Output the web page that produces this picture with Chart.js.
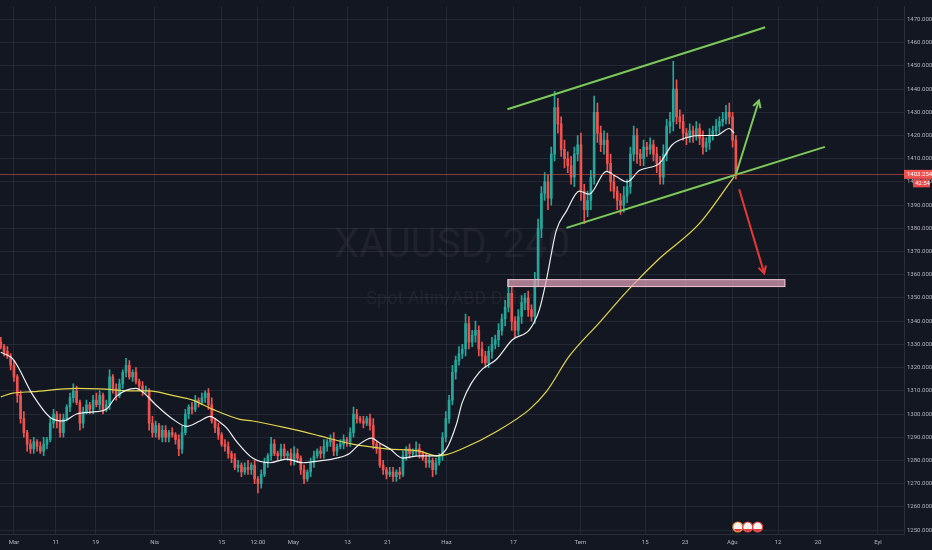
<!DOCTYPE html>
<html><head><meta charset="utf-8">
<script src="https://cdn.jsdelivr.net/npm/chart.js@4.4.1/dist/chart.umd.min.js"></script>
<style>html,body{margin:0;padding:0;background:#131722;overflow:hidden}#wrap{width:932px;height:550px;position:relative}</style>
</head><body><div id="wrap"><canvas id="c"></canvas></div>
<script>
// ---- data (4H candles, roughly two per trading day) ----
const firstOpen = 1331;
const closes = [
1329,1327,1325,1321,1316,1308,1298,1292,1287,1285,
1288,1286,1284,1287,1289,1296,1300,1297,1292,1298,
1303,1307,1310,1305,1296,1301,1304,1302,1306,1304,
1308,1302,1304,1316,1311,1308,1313,1318,1321,1316,
1318,1314,1312,1310,1310,1296,1292,1295,1290,1293,
1290,1292,1291,1289,1285,1292,1300,1303,1302,1306,
1305,1307,1309,1304,1297,1294,1291,1287,1286,1283,
1281,1277,1278,1275,1277,1276,1278,1272,1270,1274,
1279,1282,1287,1283,1282,1285,1282,1283,1280,1283,
1281,1276,1272,1275,1279,1282,1284,1283,1286,1288,
1289,1284,1286,1287,1289,1288,1292,1300,1298,1297,
1296,1298,1295,1287,1285,1278,1276,1274,1275,1273,
1275,1274,1282,1285,1283,1284,1285,1283,1281,1279,
1280,1276,1279,1282,1290,1298,1306,1318,1323,1326,
1328,1339,1331,1334,1336,1328,1325,1322,1327,1330,
1332,1336,1341,1346,1352,1340,1336,1342,1348,1350,
1345,1342,1358,1380,1395,1400,1393,1412,1432,1425,
1414,1410,1407,1402,1412,1416,1396,1388,1392,1402,
1430,1421,1416,1418,1408,1400,1396,1392,1390,1394,
1398,1412,1420,1412,1410,1415,1414,1416,1412,1408,
1402,1412,1424,1426,1440,1428,1426,1421,1419,1422,
1420,1423,1419,1415,1417,1420,1422,1424,1426,1427,
1430,1428,1418,1403.3
];
const wickUp = [
2,1,2,1,2,1,2,3,1,2, 2,1,2,3,1,2,2,1,3,2, 1,2,3,2,1,2,2,1,2,3, 2,1,2,3,1,2,2,1,3,2,
1,2,1,2,2,1,3,2,1,2, 2,1,2,1,2,3,2,1,2,2, 1,2,1,2,3,1,2,1,2,2, 1,2,2,1,2,3,1,2,1,2,
2,1,3,2,1,2,2,1,2,3, 2,1,2,1,2,2,1,2,3,1, 2,3,1,2,2,1,2,3,2,1, 2,1,2,3,1,2,2,1,2,2,
1,2,2,1,2,1,3,2,1,2, 2,1,2,1,2,3,2,3,2,3, 2,4,3,2,4,2,3,2,2,3, 2,3,2,3,6,3,2,3,3,2,
3,2,3,4,3,4,3,3,7,4, 3,4,3,4,3,4,5,3,4,3, 7,4,3,4,3,4,3,2,3,4, 3,3,4,3,2,3,2,3,2,3,
3,4,3,4,12,4,3,3,2,3, 2,3,2,3,2,3,2,3,2,3, 3,4,2,2
];
const wickDown = [
1,2,1,2,2,3,2,2,3,2, 2,2,1,2,2,1,2,3,2,2, 1,2,2,1,3,2,1,2,2,1, 2,2,1,2,2,2,1,2,2,1,
2,1,2,2,1,3,2,2,1,2, 2,2,1,2,3,2,1,2,2,1, 2,1,2,2,1,2,2,1,2,2, 2,1,2,2,1,2,2,2,4,2,
1,2,2,1,2,2,1,2,2,2, 2,2,2,1,2,2,1,2,2,2, 2,2,2,1,2,2,2,2,2,1, 2,1,2,2,2,1,2,2,1,2,
2,2,1,2,2,1,2,2,1,2, 2,3,2,1,2,2,2,2,3,2, 2,3,3,2,3,3,3,2,2,3, 2,3,2,3,2,4,3,2,3,3,
3,2,3,3,4,3,5,3,3,4, 3,4,3,3,4,3,4,6,3,4, 3,4,3,4,3,4,3,4,4,3, 3,3,3,4,3,3,3,2,3,4,
3,3,3,3,4,3,3,3,3,2, 3,2,3,3,2,3,2,2,3,2, 2,3,3,2
];
const whiteMaX = [0,3.7,9.8,15,19,23,29,32,35,41,43,47,52,56.4,60.4,63.4,66.4,68.5,71.6,76.4,81.6,86.7,91.6,96.7,101.9,105.8,108.8,112.5,114.9,118,121.9,127,132.2,135.2,138.2,140,145.2,150.4,155.2,160.4,163.4,165.5,168.5,171.6,175.5,178.5,183.7,186.7,190,193.7,199.8,203.7,207.9,211.9,217,221,222.5];
const whiteMaY = [1326.6,1323.6,1308,1298.5,1297,1300,1301,1302,1307.5,1311,1309.6,1304,1298,1294.7,1297,1299,1296.5,1294,1288,1281,1279,1280.6,1279,1279.8,1281,1283,1287,1289.6,1287.5,1285,1281,1282,1282,1285,1295.5,1305,1318,1323.6,1332,1336.4,1345,1357.6,1379,1387.4,1396,1394.7,1404.5,1402.3,1400,1404.9,1408,1416,1419,1420,1420,1423,1421];
const yellowMaX = [0,3.7,9.8,23,30,40,45,52,58.2,64.3,72.5,76.4,86.7,96.7,106.7,117,127,132.2,135.2,140,150.4,160.4,165.5,172.5,181.6,190.7,199.8,211.9,222.5];
const yellowMaY = [1307.4,1309,1309.6,1311,1310.8,1310,1310,1308,1306,1302,1297.7,1297,1294,1290.6,1287,1285,1284,1282,1282.5,1285,1292.5,1302,1309.6,1325,1339.4,1354,1367,1382,1402.3];
// drawings (candle index, price)
const channelUpperX = [153.7,231.9], channelUpperY = [1431.3,1466.6];
const channelLowerX = [171.6,250.0], channelLowerY = [1380.2,1415.1];
const greenArrowX = [223,230], greenArrowY = [1403.2,1435.1];
const redArrowX = [224,231.6], redArrowY = [1396.8,1360.6];
const zoneX = [153.7,238], zoneY = [1354.7,1358.1];
const eventX = [223.6,226.6,229.6];
// axes
const xTickPos = [4,16.7,28.8,46.7,67,78,88.8,105.2,117.3,135.2,155.5,175.8,195.5,207.6,221.9,235.8,247.9,266.1];
const xTickLabels = ['Mar','11','19','Nis','15','12:00','May','13','21','Haz','17','Tem','15','23','Ağu','12','20','Eyl'];
const yTicks = [1250,1260,1270,1280,1290,1300,1310,1320,1330,1340,1350,1360,1370,1380,1390,1400,1410,1420,1430,1440,1450,1460,1470];
const lastPrice = 1403.254, countdown = '42:54';
const title = 'XAUUSD, 240', subtitle = 'Spot Altın/ABD Doları';

// ---- build ----
const UP = '#26a69a', DOWN = '#ef5350', GRID = 'rgba(60,64,78,0.42)', TXT = '#b2b5be';
const opens = closes.map((c,i)=> i===0 ? firstOpen : closes[i-1]);
const bodies = closes.map((c,i)=>({x:i, y:[opens[i], c]}));
const wicks = closes.map((c,i)=>({x:i, y:[Math.min(opens[i],c)-wickDown[i], Math.max(opens[i],c)+wickUp[i]]}));
const colors = closes.map((c,i)=> c>=opens[i] ? UP : DOWN);
const pts = (xs,ys)=> xs.map((x,i)=>({x:x, y:ys[i]}));

function lineDs(xs, ys, color, w, order){
  return {type:'line', data:pts(xs,ys), borderColor:color, borderWidth:w, pointRadius:0, fill:false, order:order, cubicInterpolationMode:'monotone'};
}

const bgPlugin = {id:'bg', beforeDraw(ch){const c=ch.ctx; c.save(); c.fillStyle='#131722'; c.fillRect(0,0,ch.width,ch.height); c.restore();}};
const watermark = {id:'wm', beforeDatasetsDraw(ch){
  const c=ch.ctx, a=ch.chartArea; const cx=(a.left+a.right)/2, cy=(a.top+a.bottom)/2;
  c.save(); c.fillStyle='rgba(255,255,255,0.05)'; c.textAlign='center'; c.textBaseline='middle';
  c.font='40px Roboto'; c.fillText(title, cx, cy-23);
  c.font='18px Roboto'; c.fillText(subtitle, cx, cy+29);
  c.restore();
}};
function arrowHead(c, x0,y0,x1,y1,color){
  const ang=Math.atan2(y1-y0,x1-x0), L=8;
  c.beginPath();
  c.moveTo(x1-L*Math.cos(ang-0.5), y1-L*Math.sin(ang-0.5));
  c.lineTo(x1,y1);
  c.lineTo(x1-L*Math.cos(ang+0.5), y1-L*Math.sin(ang+0.5));
  c.strokeStyle=color; c.lineWidth=2; c.stroke();
}
const overlay = {id:'ov', afterDatasetsDraw(ch){
  const c=ch.ctx, xs=ch.scales.x, ys=ch.scales.y, a=ch.chartArea;
  c.save();
  c.beginPath(); c.rect(a.left,a.top,a.right-a.left,a.bottom-a.top); c.clip();
  const zx0=xs.getPixelForValue(zoneX[0]), zx1=xs.getPixelForValue(zoneX[1]);
  const zy0=ys.getPixelForValue(zoneY[1]), zy1=ys.getPixelForValue(zoneY[0]);
  c.fillStyle='rgba(222,160,184,0.72)'; c.fillRect(zx0,zy0,zx1-zx0,zy1-zy0);
  c.strokeStyle='rgba(245,200,215,0.9)'; c.lineWidth=1; c.strokeRect(zx0+0.5,zy0+0.5,zx1-zx0-1,zy1-zy0-1);
  const py=Math.round(ys.getPixelForValue(lastPrice))+0.5;
  c.beginPath(); c.moveTo(a.left,py); c.lineTo(a.right,py); c.strokeStyle='rgba(239,83,80,0.55)'; c.lineWidth=1; c.stroke();
  arrowHead(c, xs.getPixelForValue(greenArrowX[0]), ys.getPixelForValue(greenArrowY[0]), xs.getPixelForValue(greenArrowX[1]), ys.getPixelForValue(greenArrowY[1]), '#7cc95a');
  arrowHead(c, xs.getPixelForValue(redArrowX[0]), ys.getPixelForValue(redArrowY[0]), xs.getPixelForValue(redArrowX[1]), ys.getPixelForValue(redArrowY[1]), '#e53935');
  const ey=a.bottom-7;
  eventX.forEach((v,i)=>{
    const ex=xs.getPixelForValue(v);
    c.beginPath(); c.arc(ex,ey,5,0,Math.PI*2); c.fillStyle='#f3f3f3'; c.fill();
    c.lineWidth=1.2; c.strokeStyle=i===0?'#f08a2c':'#e0403c'; c.stroke();
    c.beginPath(); c.arc(ex,ey,4.4,0.15*Math.PI,0.85*Math.PI); c.fillStyle='#e0403c'; c.fill();
  });
  c.restore();
}, afterDraw(ch){
  const c=ch.ctx, ys=ch.scales.y, a=ch.chartArea;
  const py=ys.getPixelForValue(lastPrice);
  c.save();
  c.fillStyle='#ef5350'; c.fillRect(a.right, py-4.5, 28, 9);
  c.fillStyle='#ffffff'; c.font='6px Roboto'; c.textBaseline='middle'; c.textAlign='left';
  c.fillText(lastPrice.toFixed(3), a.right+3, py);
  c.fillStyle='#e8494a'; c.fillRect(a.right+9, py+5, 17, 8);
  c.fillStyle='#ffffff'; c.fillText(countdown, a.right+11, py+9);
  c.restore();
}};

new Chart(document.getElementById('c'), {
  type:'bar',
  data:{datasets:[
    {type:'bar', data:wicks, backgroundColor:colors, barThickness:1, grouped:false, order:5},
    {type:'bar', data:bodies, backgroundColor:colors, barThickness:2, grouped:false, minBarLength:1, order:4},
    lineDs(yellowMaX, yellowMaY, '#e3d64f', 1.2, 3),
    lineDs(whiteMaX, whiteMaY, 'rgba(255,255,255,0.92)', 1.2, 2),
    lineDs(channelUpperX, channelUpperY, '#7cc95a', 2, 1),
    lineDs(channelLowerX, channelLowerY, '#7cc95a', 2, 1),
    lineDs(greenArrowX, greenArrowY, '#7cc95a', 2, 1),
    lineDs(redArrowX, redArrowY, '#e53935', 2, 1)
  ]},
  options:{
    responsive:true, maintainAspectRatio:false, animation:false,
    layout:{padding:0},
    plugins:{legend:{display:false}, tooltip:{enabled:false}},
    scales:{
      x:{type:'linear', min:-0.24, max:274, offset:false,
        grid:{color:GRID, drawTicks:false, offset:false},
        border:{color:'#2a2e39'},
        afterBuildTicks:s=>{ s.ticks = xTickPos.map(v=>({value:v})); },
        afterFit:s=>{ s.height=16; },
        ticks:{autoSkip:false, maxRotation:0, padding:5, color:TXT, font:{size:6, family:'Roboto'}, callback:(v,i)=>xTickLabels[i]}
      },
      y:{type:'linear', position:'right', min:1248.3, max:1475.53,
        grid:{color:GRID, drawTicks:false},
        border:{color:'#2a2e39'},
        afterBuildTicks:s=>{ s.ticks = yTicks.map(v=>({value:v})); },
        afterFit:s=>{ s.width=28; },
        ticks:{padding:3, color:TXT, font:{size:6, family:'Roboto'}, callback:v=>Number(v).toFixed(3)}
      }
    }
  },
  plugins:[bgPlugin, watermark, overlay]
});
</script>
</body></html>
